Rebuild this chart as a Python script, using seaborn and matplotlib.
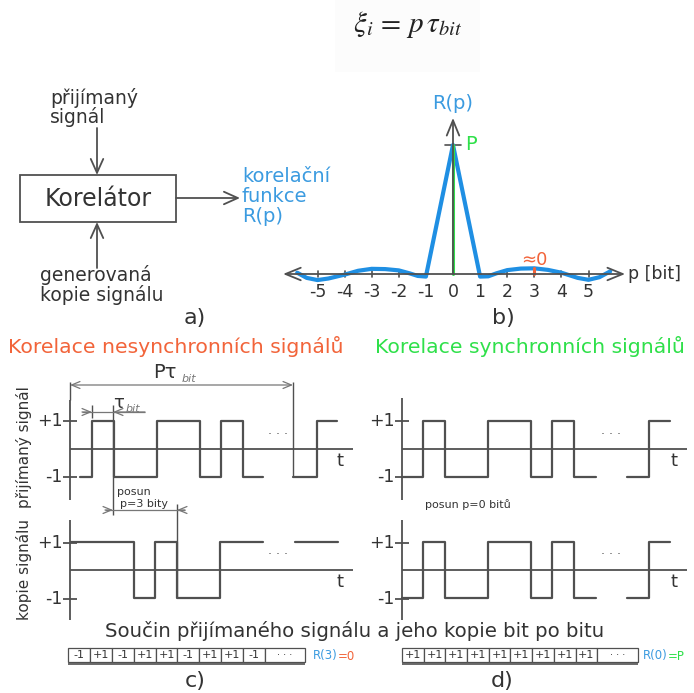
import matplotlib
matplotlib.use("Agg")
import matplotlib.pyplot as plt
import seaborn as sns
from matplotlib.patches import Rectangle

sns.set_style("white")
plt.rcParams["font.family"] = ["DejaVu Sans"]
plt.rcParams["mathtext.fontset"] = "stix"

# ---------------- data ----------------
# b) correlation function R(p) (relative to P)
p_vals = [-5.75, -5.4, -5.0, -4.6, -4.0, -3.5, -3.0, -2.5, -2.0, -1.6, -1.3, -1.0, 0.0,
          1.0, 1.3, 1.6, 2.0, 2.5, 3.0, 3.5, 4.0, 4.6, 5.0, 5.4, 5.8]
r_vals = [0.01, -0.03, -0.047, -0.035, -0.005, 0.025, 0.04, 0.038, 0.028, 0.005, -0.015, -0.02, 1.0,
          -0.02, -0.018, 0.005, 0.03, 0.042, 0.044, 0.032, 0.01, -0.03, -0.045, -0.025, 0.02]
p_ticks = [-5, -4, -3, -2, -1, 0, 1, 2, 3, 4, 5]
p_tick_labels = ["-5", "-4", "-3", "-2", "-1", "0", "1", "2", "3", "4", "5"]
p_marked = 3
r_marked = 0.044

# c) received signal (time in bits) and shifted copy
c_rx_t1 = [-0.55, 0, 1, 3, 5, 6, 7, 7.95]
c_rx_v1 = [-1, 1, -1, 1, -1, 1, -1, -1]
c_rx_t2 = [9.35, 10.45, 11.4]
c_rx_v2 = [-1, 1, 1]
c_cp_t1 = [-1, 1.95, 2.95, 3.95, 5.95, 7.95]
c_cp_v1 = [1, -1, 1, -1, 1, 1]
c_cp_t2 = [9.45, 11.45]
c_cp_v2 = [1, 1]

# d) synchronous: received == copy
d_rx_t1 = [-1, 0, 1, 3, 5, 6, 7, 8.05]
d_rx_v1 = [-1, 1, -1, 1, -1, 1, -1, -1]
d_rx_t2 = [9.5, 10.5, 11.5]
d_rx_v2 = [-1, 1, 1]

prod_c = ["-1", "+1", "-1", "+1", "+1", "-1", "+1", "+1", "-1"]
prod_d = ["+1", "+1", "+1", "+1", "+1", "+1", "+1", "+1", "+1"]

# ---------------- colours ----------------
GREY = "#505050"
TXT = "#333333"
BLUE = "#1f8fe3"
BLUE_T = "#3b9be0"
GREEN = "#2fe04a"
ORANGE = "#f2643a"

W, H = 694, 693
fig = plt.figure(figsize=(6.94, 6.93), dpi=100)
fig.patch.set_facecolor("white")
ov = fig.add_axes([0, 0, 1, 1])
ov.set_xlim(0, W)
ov.set_ylim(H, 0)
ov.axis("off")


def panel(px0, px1, py0, py1, xo, xs, yo, ys):
    ax = fig.add_axes([px0 / W, 1 - py1 / H, (px1 - px0) / W, (py1 - py0) / H])
    ax.set_xlim((px0 - xo) / xs, (px1 - xo) / xs)
    ax.set_ylim((yo - py1) / ys, (yo - py0) / ys)
    ax.axis("off")
    return ax


def T(x, y, s, size, color=TXT, ha="left", va="baseline", **kw):
    return ov.text(x, y, s, fontsize=size, color=color, ha=ha, va=va, **kw)


def L(x0, y0, x1, y1, color=GREY, lw=1.3, **kw):
    ov.plot([x0, x1], [y0, y1], color=color, lw=lw, solid_capstyle="butt", **kw)


def A(x0, y0, x1, y1, style="->,head_length=1.0,head_width=0.45", color=GREY, lw=1.3, ax=None):
    (ax or ov).annotate("", xy=(x1, y1), xytext=(x0, y0),
                        arrowprops=dict(arrowstyle=style, color=color, lw=lw,
                                        shrinkA=0, shrinkB=0))


# ---------------- formula ----------------
ov.add_patch(Rectangle((335, 0), 145, 72, facecolor="#fcfcfc", edgecolor="none", zorder=0))
T(408, 24, r"$\xi_i\,=\,p\,\tau_{bit}$", 21, color="#222222", ha="center", va="center")

# ---------------- a) block diagram ----------------
ov.add_patch(Rectangle((20, 175), 156, 47, facecolor="white", edgecolor=GREY, lw=1.3))
T(98, 199, "Korelátor", 17, ha="center", va="center")
A(97, 128, 97, 175)
A(97, 268, 97, 222)
A(176, 198, 240, 198)
T(50, 104, "přijímaný", 13.5)
T(50, 123, "signál", 13.5)
T(40, 281, "generovaná", 13.5)
T(40, 301, "kopie signálu", 13.5)
T(242, 182, "korelační", 14, color=BLUE_T)
T(242, 202, "funkce", 14, color=BLUE_T)
T(242, 222, "R(p)", 14, color=BLUE_T)
T(195, 318, "a)", 16, ha="center", va="center")

# ---------------- b) correlation function ----------------
bx = panel(270, 645, 95, 300, 453, 27.1, 274, 129)
A(-6.27, 0, 6.35, 0, style="<->,head_length=1.1,head_width=0.45", ax=bx)
A(0, 0, 0, 1.21, style="->,head_length=1.1,head_width=0.45", ax=bx)
for pt in p_ticks:
    if pt != 0:
        bx.plot([pt, pt], [-0.025, 0.025], color=GREY, lw=1.2)
bx.plot([-0.3, 0.3], [1, 1], color=GREY, lw=1.2)
sns.lineplot(x=p_vals, y=r_vals, ax=bx, color=BLUE, linewidth=3, sort=False)
bx.plot([0, 0], [0, 1], color=GREEN, lw=2.2)
bx.plot([p_marked, p_marked], [0, r_marked], color=ORANGE, lw=2.2)
for pt, lab in zip(p_ticks, p_tick_labels):
    bx.text(pt, -0.14, lab, fontsize=12.5, color=TXT, ha="center", va="center")
bx.text(6.45, 0.0, "p [bit]", fontsize=12.5, color=TXT, ha="left", va="center")
bx.text(0, 1.32, "R(p)", fontsize=14, color=BLUE_T, ha="center", va="center")
bx.text(0.45, 1.0, "P", fontsize=14, color=GREEN, ha="left", va="center")
bx.text(p_marked, 0.11, "≈0", fontsize=13, color=ORANGE, ha="center", va="center")
T(503, 318, "b)", 16, ha="center", va="center")

# ---------------- section titles ----------------
T(176, 353, "Korelace nesynchronních signálů", 14.7, color=ORANGE, ha="center")
T(530, 353, "Korelace synchronních signálů", 14.7, color=GREEN, ha="center")


def signal_frame(xa, xend, y0, ytop, ybot, lab_dx=7):
    L(xa, ytop, xa, ybot)
    L(xa, y0, xend, y0)
    L(xa - 7, y0 - 27.5, xa + 7, y0 - 27.5)
    L(xa - 7, y0 + 28.5, xa + 7, y0 + 28.5)
    T(xa - lab_dx, y0 - 27.5, "+1", 12.5, ha="right", va="center")
    T(xa - lab_dx, y0 + 28.5, "-1", 12.5, ha="right", va="center")
    T(xend - 13, y0 + 12, "t", 13, ha="center", va="center")


def draw_signal(ax, t, v):
    sns.lineplot(x=t, y=v, ax=ax, color=GREY, linewidth=1.6, drawstyle="steps-post", sort=False)


BIT = 21.5
# c) top
signal_frame(70, 353, 448.5, 400, 500)
ax = panel(40, 360, 380, 520, 92, BIT, 448.5, 28)
draw_signal(ax, c_rx_t1, c_rx_v1)
draw_signal(ax, c_rx_t2, c_rx_v2)
T(278, 434, "· · ·", 9, ha="center", va="center", color="#555")
# c) bottom
signal_frame(70, 353, 570, 520, 620)
ax = panel(40, 360, 500, 640, 92, BIT, 570, 28)
draw_signal(ax, c_cp_t1, c_cp_v1)
draw_signal(ax, c_cp_t2, c_cp_v2)
T(278, 554, "· · ·", 9, ha="center", va="center", color="#555")

# c) annotations
L(70, 382, 70, 400, lw=1.0)
L(293, 382, 293, 477, lw=1.0)
A(70, 385, 293, 385, style="<->,head_length=0.6,head_width=0.25", lw=0.9, color="#777")
T(153, 378, "Pτ", 14)
T(182, 382, "bit", 8, style="italic", color="#777")
L(92, 405, 92, 418, lw=1.0)
L(113, 405, 113, 515, lw=1.0)
L(82, 412, 145, 412, lw=0.9, color="#777")
A(82, 412, 92, 412, style="->,head_length=0.6,head_width=0.25", lw=0.9, color="#777")
A(145, 412, 113, 412, style="->,head_length=0.6,head_width=0.25", lw=0.9, color="#777")
T(113, 408, "τ", 13)
T(126, 412, "bit", 8, style="italic", color="#777")
T(117, 492, "posun", 8, va="center")
T(120, 504, "p=3 bity", 8, va="center")
L(177, 504, 177, 598, lw=1.0)
L(105, 510, 185, 510, lw=0.9, color="#777")
A(105, 510, 113, 510, style="->,head_length=0.6,head_width=0.25", lw=0.9, color="#777")
A(185, 510, 177, 510, style="->,head_length=0.6,head_width=0.25", lw=0.9, color="#777")

# rotated labels
T(24, 447, "přijímaný signál", 11, ha="center", va="center", rotation=90)
T(24, 570, "kopie signálu", 11, ha="center", va="center", rotation=90)

# d) top
signal_frame(402, 687, 448.5, 398, 500)
ax = panel(372, 692, 380, 520, 423, BIT, 448.5, 28)
draw_signal(ax, d_rx_t1, d_rx_v1)
draw_signal(ax, d_rx_t2, d_rx_v2)
T(611, 434, "· · ·", 9, ha="center", va="center", color="#555")
# d) bottom
signal_frame(402, 687, 570, 520, 620)
ax = panel(372, 692, 500, 640, 423, BIT, 570, 28)
draw_signal(ax, d_rx_t1, d_rx_v1)
draw_signal(ax, d_rx_t2, d_rx_v2)
T(611, 554, "· · ·", 9, ha="center", va="center", color="#555")
T(425, 505, "posun p=0 bitů", 8, va="center")

# ---------------- product rows ----------------
T(355, 637, "Součin přijímaného signálu a jeho kopie bit po bitu", 14.2, ha="center")


def product_row(x0, cw, xend, vals, y0=648, h=14):
    for i, v in enumerate(vals):
        ov.add_patch(Rectangle((x0 + i * cw, y0), cw, h, facecolor="white", edgecolor=GREY, lw=0.9))
        T(x0 + (i + 0.5) * cw, y0 + h / 2, v, 8, ha="center", va="center")
    xd = x0 + len(vals) * cw
    ov.add_patch(Rectangle((xd, y0), xend - xd, h, facecolor="white", edgecolor=GREY, lw=0.9))
    T((xd + xend) / 2, y0 + h / 2, "· · ·", 7, ha="center", va="center")
    L(x0, y0 + h + 1.5, xend, y0 + h + 1.5, lw=1.2)


product_row(68, 21.9, 305, prod_c)
t1 = T(313, 656, "R(3)", 8.5, color=BLUE_T, va="center")
ov.annotate("=0", xy=(1, 0.5), xycoords=t1, fontsize=8.5, color=ORANGE, ha="left", va="center")
product_row(402, 21.7, 638, prod_d)
t2 = T(643, 656, "R(0)", 8.5, color=BLUE_T, va="center")
ov.annotate("=P", xy=(1, 0.5), xycoords=t2, fontsize=8.5, color=GREEN, ha="left", va="center")

T(195, 681, "c)", 16, ha="center", va="center")
T(502, 681, "d)", 16, ha="center", va="center")

fig.savefig("out.png", dpi=100, facecolor="white")
